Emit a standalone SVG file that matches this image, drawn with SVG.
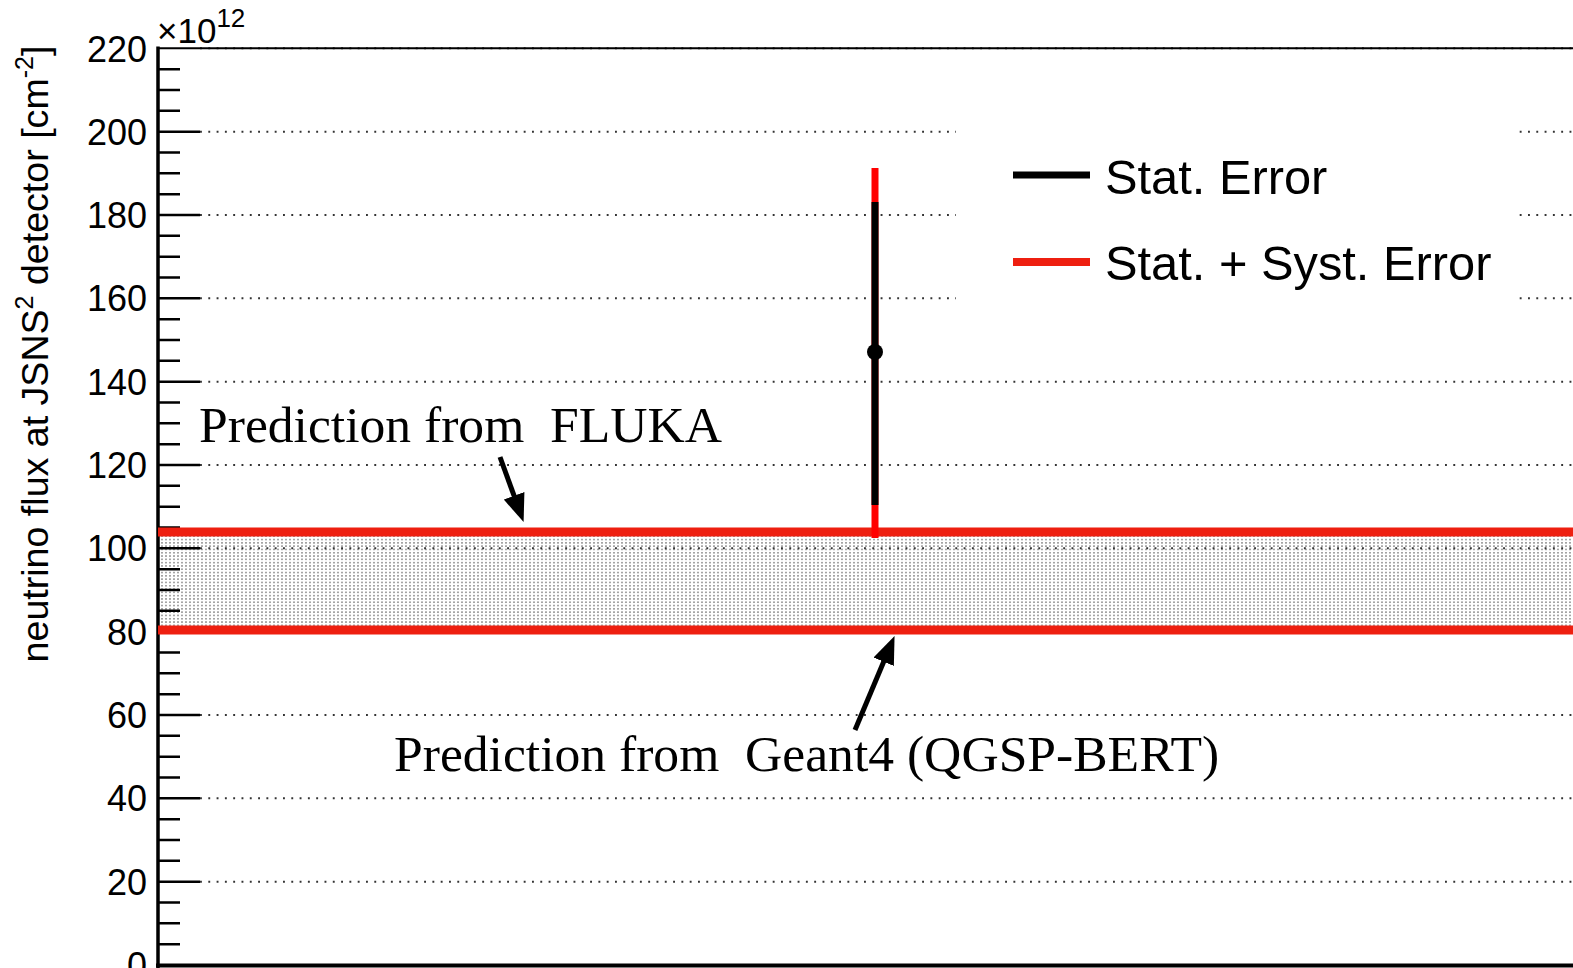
<svg xmlns="http://www.w3.org/2000/svg" width="1573" height="968" viewBox="0 0 1573 968">
<style>
.grid{stroke:#333;stroke-width:1.9;stroke-dasharray:1.9 6.4;fill:none}
.tick{stroke:#000;stroke-width:2.5;fill:none}
.lab{font-family:"Liberation Sans",Arial,sans-serif;font-size:36px;fill:#000;text-anchor:end}
.serif{font-family:"Liberation Serif","Times New Roman",serif;font-size:51.6px;fill:#000}
.leg{font-family:"Liberation Sans",Arial,sans-serif;font-size:48.8px;fill:#000}
.pred{stroke:#ee1f10;stroke-width:9;fill:none}
.arrow{stroke:#000;stroke-width:5;fill:none;marker-end:url(#ah)}
</style>
<defs>
<pattern id="stip" width="4" height="3.3" patternUnits="userSpaceOnUse">
<circle cx="2" cy="1.6" r="0.8" fill="#6a6a6a"/>
</pattern>
<marker id="ah" viewBox="0 -11 28 22" markerWidth="28" markerHeight="22" refX="1" refY="0" orient="auto" markerUnits="userSpaceOnUse">
<path d="M0,-11 L28,0 L0,11 Z" fill="#000"/>
</marker>
</defs>
<rect width="1573" height="968" fill="#fff"/>

<g id="band">
<rect x="158" y="536" width="1415" height="90" fill="url(#stip)"/>
</g>

<g id="gridlines">
<path class="grid" d="M200 881.7H1573M200 798.3H1573M200 715H1573M200 631.7H1573M200 548.3H1573M200 465H1573M200 381.7H1573M200 298.3H1573M200 215H1573M200 131.7H1573M200 48.3H1573"/>
</g>

<g id="legend-bg">
<rect x="956" y="105" width="559" height="220" fill="#fff"/>
</g>

<g id="frame">
<line x1="158" y1="48.3" x2="1573" y2="48.3" stroke="#000" stroke-width="2"/>
<line x1="158" y1="46.5" x2="158" y2="968" stroke="#000" stroke-width="3.5"/>
<line x1="156" y1="965.5" x2="1573" y2="965.5" stroke="#000" stroke-width="4"/>
<path class="tick" d="M158 881.7h42M158 798.3h42M158 715h42M158 631.7h42M158 548.3h42M158 465h42M158 381.7h42M158 298.3h42M158 215h42M158 131.7h42"/>
<path class="tick" d="M158 944.2h22M158 923.3h22M158 902.5h22M158 860.8h22M158 840h22M158 819.2h22M158 777.5h22M158 756.7h22M158 735.8h22M158 694.2h22M158 673.3h22M158 652.5h22M158 610.8h22M158 590h22M158 569.2h22M158 527.5h22M158 506.7h22M158 485.8h22M158 444.2h22M158 423.3h22M158 402.5h22M158 360.8h22M158 340h22M158 319.2h22M158 277.5h22M158 256.7h22M158 235.8h22M158 194.2h22M158 173.3h22M158 152.5h22M158 110.8h22M158 90h22M158 69.2h22"/>
</g>

<g id="ylabels">
<text class="lab" x="147" y="978">0</text>
<text class="lab" x="147" y="894.7">20</text>
<text class="lab" x="147" y="811.3">40</text>
<text class="lab" x="147" y="728">60</text>
<text class="lab" x="147" y="644.7">80</text>
<text class="lab" x="147" y="561.3">100</text>
<text class="lab" x="147" y="478">120</text>
<text class="lab" x="147" y="394.7">140</text>
<text class="lab" x="147" y="311.3">160</text>
<text class="lab" x="147" y="228">180</text>
<text class="lab" x="147" y="144.7">200</text>
<text class="lab" x="147" y="62">220</text>
<text font-family="Liberation Sans, Arial, sans-serif" font-size="35" x="157" y="43">×10<tspan font-size="26" dy="-16">12</tspan></text>
</g>

<g id="ytitle">
<text font-family="Liberation Sans, Arial, sans-serif" font-size="37.6" text-anchor="middle" transform="translate(48,354) rotate(-90)">neutrino flux at JSNS<tspan font-size="25" dy="-15">2</tspan><tspan dy="15"> detector [cm</tspan><tspan font-size="25" dy="-15">-2</tspan><tspan dy="15">]</tspan></text>
</g>

<g id="predictions">
<line class="pred" x1="158" y1="532" x2="1573" y2="532"/>
<line class="pred" x1="158" y1="630" x2="1573" y2="630"/>
</g>

<g id="datapoint">
<line x1="875" y1="168" x2="875" y2="538" stroke="#ff0000" stroke-width="7"/>
<line x1="875" y1="202" x2="875" y2="505" stroke="#000" stroke-width="7"/>
<circle cx="875" cy="352" r="8" fill="#000"/>
</g>

<g id="legend">
<line x1="1013" y1="175" x2="1090" y2="175" stroke="#000" stroke-width="7"/>
<text class="leg" x="1105" y="194">Stat. Error</text>
<line x1="1013" y1="262" x2="1090" y2="262" stroke="#ee1f10" stroke-width="8"/>
<text class="leg" x="1105" y="280">Stat. + Syst. Error</text>
</g>

<g id="label-fluka">
<text class="serif" x="199" y="442" xml:space="preserve">Prediction from  FLUKA</text>
</g>
<g id="label-geant">
<text class="serif" x="394" y="771" xml:space="preserve">Prediction from  Geant4 (QGSP-BERT)</text>
</g>

<g id="connectors">
<line class="arrow" x1="500" y1="457" x2="514.4" y2="496.7"/>
<line class="arrow" x1="855" y1="730" x2="884.1" y2="660.8"/>
</g>
</svg>
